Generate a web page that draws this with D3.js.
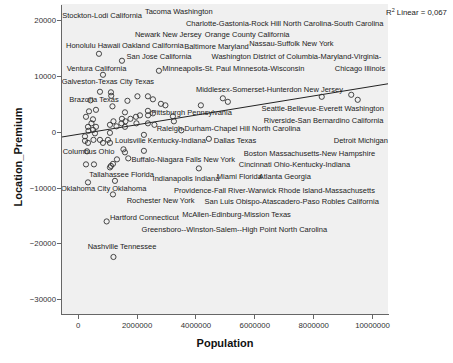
<!DOCTYPE html>
<html>
<head>
<meta charset="utf-8">
<script src="https://cdn.jsdelivr.net/npm/d3@7"></script>
<style>
  body { margin: 0; background: #fff; }
  svg { font-family: "Liberation Sans", Arial, sans-serif; }
  .axis path, .axis line { stroke: #666; shape-rendering: crispEdges; }
  .axis text { fill: #333; font-size: 7.8px; }
  .title { font-weight: bold; font-size: 11px; fill: #111; }
  .lbl { font-size: 7.5px; fill: #222; }
</style>
</head>
<body>
<div id="chart"></div>
<script>

// population / location premium for each metro area
const population = [
  723000, 1504000, 859000, 2760000, 757000, 1130000, 1140000, 435000, 1690000, 2030000,
  2386000, 2556000, 2828000, 2980000, 4185000, 4932000, 5102000, 8292000, 9294000, 9514000,
  1181000, 384000, 621000, 1606000, 1979000, 2115000, 2386000, 2390000, 2556000, 282000,
  519000, 1215000, 1504000, 1622000, 1792000, 468000, 1487000, 1996000, 2386000, 2607000,
  3269000, 3235000, 350000, 621000, 1096000, 1317000, 1606000, 519000, 367000, 587000,
  1096000, 3523000, 248000, 2250000, 248000, 350000, 536000, 757000, 859000, 1028000,
  1096000, 4457000, 316000, 1555000, 1606000, 2250000, 1334000, 1718000, 282000, 553000,
  1096000, 1130000, 1198000, 4117000, 1266000, 350000, 1198000, 984000, 1215000
];
const premium = [
  14010, 12760, 10240, 10960, 7190, 7100, 6470, 5660, 5570, 6380,
  6380, 5840, 5030, 4760, 4760, 6020, 5390, 6290, 6650, 5750,
  4580, 3680, 3950, 3500, 2700, 2960, 3770, 2960, 3320, 2700,
  2250, 1890, 2340, 1890, 2340, 1530, 1530, 1530, 1530, 1260,
  1890, 2790, 900, 900, 1260, 990, 900, 360, 180, -270,
  -180, 270, -810, -540, -1620, -1980, -1440, -1440, -1980, -1440,
  -1980, -1260, -3500, -3140, -3680, -3410, -4940, -4760, -5840, -5840,
  -6380, -6110, -5750, -6560, -8800, -9070, -11230, -16080, -22460
];

// point labels, anchored where they sit in the picture (data units)
const labelNames = [
  "Stockton-Lodi California", "Tacoma Washington",
  "Charlotte-Gastonia-Rock Hill North Carolina-South Carolina",
  "Newark New Jersey", "Orange County California", "Honolulu Hawaii",
  "Oakland California", "Baltimore Maryland", "Nassau-Suffolk New York",
  "San Jose California", "Washington District of Columbia-Maryland-Virginia-",
  "Ventura California", "Minneapolis-St. Paul Minnesota-Wisconsin", "Chicago Illinois",
  "Galveston-Texas City Texas", "Middlesex-Somerset-Hunterdon New Jersey",
  "Brazoria Texas", "Pittsburgh Pennsylvania", "Seattle-Bellevue-Everett Washington",
  "Riverside-San Bernardino California", "Raleigh-Durham-Chapel Hill North Carolina",
  "Louisville Kentucky-Indiana", "Dallas Texas", "Detroit Michigan", "Columbus Ohio",
  "Boston Massachusetts-New Hampshire", "Buffalo-Niagara Falls New York",
  "Cincinnati Ohio-Kentucky-Indiana", "Tallahassee Florida", "Indianapolis Indiana",
  "Miami Florida", "Atlanta Georgia", "Oklahoma City Oklahoma",
  "Providence-Fall River-Warwick Rhode Island-Massachusetts", "Rochester New York",
  "San Luis Obispo-Atascadero-Paso Robles California", "McAllen-Edinburg-Mission Texas",
  "Hartford Connecticut", "Greensboro--Winston-Salem--High Point North Carolina",
  "Nashville Tennessee"
];
const labelPop = [
  -523000, 2284000, 3676000, 1945000, 4321000, -397000, 1504000, 3618000, 5825000,
  1657000, 4549000, -373000, 2872000, 8734000, -543000, 4016000, -285000, 2505000,
  6246000, 6324000, 2682000, 1266000, 4627000, 8700000, -509000, 5645000, 1826000,
  5475000, 394000, 2546000, 4728000, 6151000, -567000, 3269000, 1663000, 4311000,
  3551000, 1096000, 2172000, 339000
];
const labelPrem = [
  20430, 21200, 19040, 16940, 16940, 15040, 15040, 14910, 15360,
  13060, 13060, 11010, 11010, 11010, 8620, 7240, 5440, 3050,
  3770, 1530, 230, -2070, -2070, -2070, -4010, -4260, -5390,
  -6340, -8140, -8800, -8440, -8440, -10600, -11010, -12810, -12940,
  -15330, -15810, -17910, -21020
];

const xTicks = [0, 2000000, 4000000, 6000000, 8000000, 10000000];
const yTicks = [-30000, -20000, -10000, 0, 10000, 20000];

// linear fit as printed in the chart
const fitIntercept = -463;
const fitSlope = 0.000862;
const rSquared = "0,067";

const W = 453, H = 363;
const plot = {left: 61, right: 388, top: 4, bottom: 314};

let svg = d3.select("#chart").append("svg")
  .attr("width", W).attr("height", H);

let xscale = d3.scaleLinear().domain([-567000, 10543000]).range([plot.left, plot.right]);
let yscale = d3.scaleLinear().domain([-32695, 22946]).range([plot.bottom, plot.top]);

svg.append("rect")
  .attr("x", plot.left).attr("y", plot.top)
  .attr("width", plot.right - plot.left)
  .attr("height", plot.bottom - plot.top)
  .attr("fill", "#f0f0f0");

// labels go under the marks
svg.append("g")
  .selectAll("text")
  .data(labelNames)
  .enter().append("text")
    .attr("class", "lbl")
    .attr("x", (d, i) => xscale(labelPop[i]))
    .attr("y", (d, i) => yscale(labelPrem[i]))
    .text(d => d);

let xd = xscale.domain();
svg.append("line")
  .attr("x1", xscale(xd[0])).attr("y1", yscale(fitIntercept + fitSlope * xd[0]))
  .attr("x2", xscale(xd[1])).attr("y2", yscale(fitIntercept + fitSlope * xd[1]))
  .attr("stroke", "#222").attr("stroke-width", 1);

svg.append("g")
  .selectAll("circle")
  .data(population)
  .enter().append("circle")
    .attr("cx", d => xscale(d))
    .attr("cy", (d, i) => yscale(premium[i]))
    .attr("r", 2.6)
    .attr("fill", "none")
    .attr("stroke", "#333")
    .attr("stroke-width", 0.9);

let xAxis = d3.axisBottom(xscale).tickValues(xTicks).tickFormat(d3.format("d"))
  .tickSize(5).tickSizeOuter(0).tickPadding(3);
let yAxis = d3.axisLeft(yscale).tickValues(yTicks).tickFormat(d3.format("d"))
  .tickSize(4).tickSizeOuter(0).tickPadding(1);

svg.append("g")
  .attr("class", "x axis")
  .attr("transform", "translate(0," + plot.bottom + ")")
  .call(xAxis);

svg.append("g")
  .attr("class", "y axis")
  .attr("transform", "translate(" + plot.left + ",0)")
  .call(yAxis);

svg.append("text")
  .attr("class", "title")
  .attr("text-anchor", "middle")
  .attr("x", 225).attr("y", 347)
  .text("Population");

svg.append("text")
  .attr("class", "title")
  .attr("text-anchor", "middle")
  .attr("transform", "translate(22,157) rotate(-90)")
  .text("Location_Premium");

let r2 = svg.append("text")
  .attr("class", "lbl")
  .style("font-size", "7.8px")
  .attr("x", 386).attr("y", 15);
r2.append("tspan").text("R");
r2.append("tspan").attr("dy", -3).style("font-size", "5.5px").text("2");
r2.append("tspan").attr("dy", 3).text(" Linear = " + rSquared);

</script>
</body>
</html>
